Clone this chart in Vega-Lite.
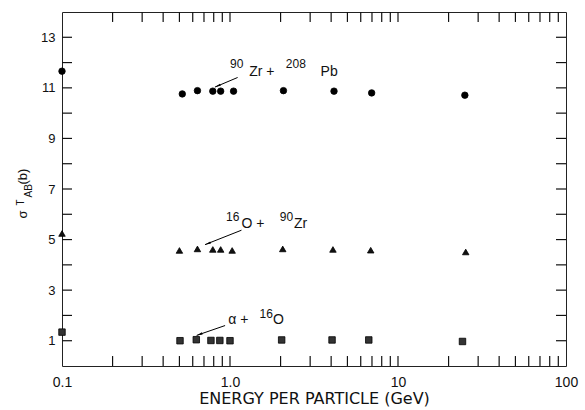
{
  "$schema": "https://vega.github.io/schema/vega-lite/v6.json",
  "width": 504,
  "height": 354,
  "autosize": {"type": "none"},
  "padding": {"left": 62, "top": 12, "right": 19, "bottom": 44},
  "background": "white",
  "config": {
    "view": {"stroke": "#222", "strokeWidth": 1},
    "axis": {
      "grid": false,
      "domain": false,
      "ticks": true,
      "tickOpacity": 0,
      "tickColor": "#222",
      "tickWidth": 1,
      "labelColor": "#111",
      "titleColor": "#111",
      "labelFont": "Liberation Sans",
      "titleFont": "Liberation Sans",
      "titleFontWeight": "normal"
    }
  },
  "datasets": {
    "pts": [
      {"series": "Zr+Pb", "energy": 0.1, "sigma": 11.66},
      {"series": "Zr+Pb", "energy": 0.52, "sigma": 10.76},
      {"series": "Zr+Pb", "energy": 0.64, "sigma": 10.89},
      {"series": "Zr+Pb", "energy": 0.79, "sigma": 10.87},
      {"series": "Zr+Pb", "energy": 0.88, "sigma": 10.87},
      {"series": "Zr+Pb", "energy": 1.05, "sigma": 10.87},
      {"series": "Zr+Pb", "energy": 2.08, "sigma": 10.89},
      {"series": "Zr+Pb", "energy": 4.16, "sigma": 10.87},
      {"series": "Zr+Pb", "energy": 6.97, "sigma": 10.8},
      {"series": "Zr+Pb", "energy": 25.0, "sigma": 10.71},
      {"series": "O+Zr", "energy": 0.1, "sigma": 5.24},
      {"series": "O+Zr", "energy": 0.5, "sigma": 4.57},
      {"series": "O+Zr", "energy": 0.64, "sigma": 4.63},
      {"series": "O+Zr", "energy": 0.79, "sigma": 4.61},
      {"series": "O+Zr", "energy": 0.88, "sigma": 4.61},
      {"series": "O+Zr", "energy": 1.03, "sigma": 4.57},
      {"series": "O+Zr", "energy": 2.06, "sigma": 4.63},
      {"series": "O+Zr", "energy": 4.1, "sigma": 4.61},
      {"series": "O+Zr", "energy": 6.88, "sigma": 4.58},
      {"series": "O+Zr", "energy": 25.3, "sigma": 4.51},
      {"series": "alpha+O", "energy": 0.1, "sigma": 1.34},
      {"series": "alpha+O", "energy": 0.504, "sigma": 1.0},
      {"series": "alpha+O", "energy": 0.63, "sigma": 1.04},
      {"series": "alpha+O", "energy": 0.77, "sigma": 1.01},
      {"series": "alpha+O", "energy": 0.87, "sigma": 1.01},
      {"series": "alpha+O", "energy": 1.0, "sigma": 1.0},
      {"series": "alpha+O", "energy": 2.03, "sigma": 1.03},
      {"series": "alpha+O", "energy": 4.05, "sigma": 1.03},
      {"series": "alpha+O", "energy": 6.7, "sigma": 1.03},
      {"series": "alpha+O", "energy": 24.2, "sigma": 0.97}
    ],
    "arrows": [
      {"x1": 1.11, "y1": 11.41, "x2": 0.813, "y2": 11.03, "heading": 246},
      {"x1": 1.17, "y1": 5.37, "x2": 0.71, "y2": 4.8, "heading": 249},
      {"x1": 0.935, "y1": 1.6, "x2": 0.633, "y2": 1.21, "heading": 250}
    ],
    "mainText": [
      {"t": "Zr +", "x": 1.3, "y": 11.63},
      {"t": "Pb", "x": 3.46, "y": 11.63},
      {"t": "O +", "x": 1.17, "y": 5.63},
      {"t": "Zr", "x": 2.4, "y": 5.63},
      {"t": "α +", "x": 0.977, "y": 1.81},
      {"t": "O", "x": 1.8, "y": 1.81}
    ],
    "supText": [
      {"t": "90", "x": 1.0, "y": 11.96},
      {"t": "208", "x": 2.15, "y": 11.96},
      {"t": "16", "x": 0.948, "y": 5.88},
      {"t": "90", "x": 1.98, "y": 5.88},
      {"t": "16", "x": 1.5, "y": 2.04}
    ],
    "xticks": [
      {"v": 0.2}, {"v": 0.3}, {"v": 0.4}, {"v": 0.5}, {"v": 0.6}, {"v": 0.7}, {"v": 0.8}, {"v": 0.9},
      {"v": 1}, {"v": 2}, {"v": 3}, {"v": 4}, {"v": 5}, {"v": 6}, {"v": 7}, {"v": 8}, {"v": 9},
      {"v": 10}, {"v": 20}, {"v": 30}, {"v": 40}, {"v": 50}, {"v": 60}, {"v": 70}, {"v": 80}, {"v": 90}
    ],
    "yticks": [
      {"v": 1}, {"v": 2}, {"v": 3}, {"v": 4}, {"v": 5}, {"v": 6}, {"v": 7},
      {"v": 8}, {"v": 9}, {"v": 10}, {"v": 11}, {"v": 12}, {"v": 13}
    ]
  },
  "resolve": {"axis": {"x": "independent", "y": "independent"}},
  "layer": [
    {
      "data": {"name": "pts"},
      "mark": {"type": "point", "filled": true, "stroke": "black", "strokeWidth": 0.8, "opacity": 1, "size": 42},
      "encoding": {
        "x": {
          "field": "energy", "type": "quantitative",
          "scale": {"type": "log", "domain": [0.1, 100], "nice": false},
          "axis": {
            "orient": "bottom",
            "offset": -10,
            "values": [0.1,0.2,0.3,0.4,0.5,0.6,0.7,0.8,0.9,1,2,3,4,5,6,7,8,9,10,20,30,40,50,60,70,80,90,100],
            "labelExpr": "datum.value == 0.1 ? '0.1' : datum.value == 1 ? '1.0' : datum.value == 10 ? '10' : datum.value == 100 ? '100' : ''",
            "tickSize": 10,
            "labelPadding": 9,
            "labelFontSize": 14,
            "labelFlush": false,
            "labelOverlap": false,
            "title": "ENERGY PER PARTICLE (GeV)",
            "titleFont": "DejaVu Sans",
            "titleFontSize": 16,
            "titlePadding": 1
          }
        },
        "y": {
          "field": "sigma", "type": "quantitative",
          "scale": {"domain": [0, 14], "nice": false, "zero": false},
          "axis": {
            "orient": "left",
            "offset": -10,
            "values": [1,2,3,4,5,6,7,8,9,10,11,12,13],
            "labelExpr": "datum.value % 2 == 1 ? datum.label : ''",
            "tickSize": 10,
            "labelPadding": 7,
            "labelFontSize": 13,
            "labelOverlap": false,
            "title": "σ",
            "titleFontSize": 13,
            "titleAngle": 270,
            "titleAlign": "left",
            "titleBaseline": "middle",
            "titleX": -49.5,
            "titleY": 206
          }
        },
        "shape": {
          "field": "series", "type": "nominal",
          "scale": {"domain": ["Zr+Pb", "O+Zr", "alpha+O"], "range": ["circle", "triangle-up", "square"]},
          "legend": null
        },
        "color": {
          "field": "series", "type": "nominal",
          "scale": {"domain": ["Zr+Pb", "O+Zr", "alpha+O"], "range": ["#000000", "#111111", "#333333"]},
          "legend": null
        }
      }
    },
    {
      "data": {"name": "arrows"},
      "mark": {"type": "rule", "color": "black", "strokeWidth": 1},
      "encoding": {
        "x": {"field": "x1", "type": "quantitative", "axis": null},
        "x2": {"field": "x2"},
        "y": {"field": "y1", "type": "quantitative", "axis": null},
        "y2": {"field": "y2"}
      }
    },
    {
      "data": {"name": "arrows"},
      "mark": {"type": "point", "shape": "M0,0L-0.35,1.9L0.35,1.9Z", "filled": true, "color": "black", "opacity": 1, "size": 40},
      "encoding": {
        "x": {"field": "x2", "type": "quantitative", "axis": null},
        "y": {"field": "y2", "type": "quantitative", "axis": {
          "orient": "left", "ticks": false, "labels": false, "domain": false,
          "title": "T", "titleFontSize": 10, "titleAngle": 270, "titleAlign": "left", "titleBaseline": "middle",
          "titleX": -41.5, "titleY": 193
        }},
        "angle": {"field": "heading", "type": "quantitative", "scale": null}
      }
    },
    {
      "data": {"name": "mainText"},
      "mark": {"type": "text", "align": "left", "baseline": "middle", "font": "Liberation Sans", "fontSize": 14, "color": "#111"},
      "encoding": {
        "x": {"field": "x", "type": "quantitative", "axis": null},
        "y": {"field": "y", "type": "quantitative", "axis": {
          "orient": "left", "ticks": false, "labels": false, "domain": false,
          "title": "AB", "titleFontSize": 10, "titleAngle": 270, "titleAlign": "left", "titleBaseline": "middle",
          "titleX": -33.5, "titleY": 185
        }},
        "text": {"field": "t"}
      }
    },
    {
      "data": {"name": "supText"},
      "mark": {"type": "text", "align": "left", "baseline": "middle", "font": "Liberation Sans", "fontSize": 12, "color": "#111"},
      "encoding": {
        "x": {"field": "x", "type": "quantitative", "axis": null},
        "y": {"field": "y", "type": "quantitative", "axis": {
          "orient": "left", "ticks": false, "labels": false, "domain": false,
          "title": "(b)", "titleFontSize": 13, "titleAngle": 270, "titleAlign": "left", "titleBaseline": "middle",
          "titleX": -39.5, "titleY": 172
        }},
        "text": {"field": "t"}
      }
    },
    {
      "data": {"name": "xticks"},
      "mark": {"type": "rule", "color": "#111", "strokeWidth": 1.2},
      "encoding": {
        "x": {"field": "v", "type": "quantitative", "axis": null},
        "y": {"datum": 0, "type": "quantitative", "axis": null},
        "y2": {"datum": 0.394}
      }
    },
    {
      "data": {"name": "xticks"},
      "mark": {"type": "rule", "color": "#111", "strokeWidth": 1.2},
      "encoding": {
        "x": {"field": "v", "type": "quantitative", "axis": null},
        "y": {"datum": 14, "type": "quantitative", "axis": null},
        "y2": {"datum": 13.606}
      }
    },
    {
      "data": {"name": "yticks"},
      "mark": {"type": "rule", "color": "#111", "strokeWidth": 1.2},
      "encoding": {
        "y": {"field": "v", "type": "quantitative", "axis": null},
        "x": {"datum": 0.1, "type": "quantitative", "axis": null},
        "x2": {"datum": 0.1147}
      }
    },
    {
      "data": {"name": "yticks"},
      "mark": {"type": "rule", "color": "#111", "strokeWidth": 1.2},
      "encoding": {
        "y": {"field": "v", "type": "quantitative", "axis": null},
        "x": {"datum": 100, "type": "quantitative", "axis": null},
        "x2": {"datum": 87.2}
      }
    }
  ]
}
